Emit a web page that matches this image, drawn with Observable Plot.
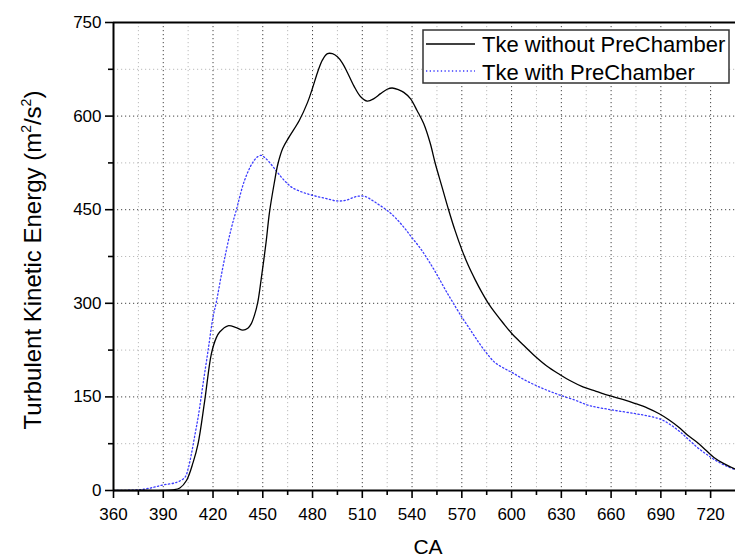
<!DOCTYPE html>
<html>
<head>
<meta charset="utf-8">
<script src="https://cdn.jsdelivr.net/npm/d3@7"></script>
<script src="https://cdn.jsdelivr.net/npm/@observablehq/plot@0.6"></script>
<style>
  html, body { margin: 0; padding: 0; background: #fff; }
  #chart { width: 735px; height: 559px; }
</style>
</head>
<body>
<div id="chart"></div>
<script>
// ---- Data ----
const seriesNames = ["Tke without PreChamber", "Tke with PreChamber"];

const caNoPre = [360, 380, 390, 396, 400, 404, 408, 411, 415, 419, 422, 424, 429, 434, 438, 441, 443, 445, 447, 449, 452, 454, 457, 459, 462, 466, 472, 477, 480, 483, 486, 489, 492, 495, 498, 501, 505, 509, 513, 517, 521, 525, 528, 532, 535, 539, 543, 547, 551, 554, 558, 562, 566, 570, 574, 578, 582, 586, 590, 595, 600, 606, 613, 621, 629, 636, 643, 651, 659, 667, 675, 682, 689, 695, 701, 706, 712, 717, 722, 728, 735];
const tkeNoPre = [0, 0, 0, 1, 4, 16, 45, 75, 144, 219, 245, 254, 264, 261, 257, 260, 267, 281, 302, 338, 398, 445, 494, 522, 548, 567, 593, 622, 645, 670, 690, 700, 700, 695, 685, 670, 648, 631, 624, 628, 636, 643, 645, 642, 638, 628, 609, 588, 556, 524, 487, 450, 416, 386, 360, 338, 318, 300, 285, 268, 252, 236, 218, 200, 186, 175, 166, 159, 152, 146, 139, 132, 123, 113, 101, 89, 77, 65, 53, 43, 34];

const caPre = [360, 370, 378, 384, 390, 398, 403, 405, 407, 409, 411, 414, 417, 420, 422, 425, 428, 431, 434, 439, 444, 447, 449, 451, 454, 457, 460, 464, 468, 474, 480, 488, 495, 500, 505, 509, 512, 516, 520, 525, 530, 535, 540, 545, 550, 555, 560, 564, 570, 575, 580, 585, 590, 596, 601, 608, 615, 622, 629, 638, 647, 661, 675, 683, 690, 696, 702, 707, 712, 717, 722, 728, 735];
const tkePre = [0, 0.5, 2, 5, 9, 13, 21, 35, 59, 88, 117, 171, 224, 278, 302, 345, 385, 420, 449, 497, 526, 535, 537, 534, 526, 516, 506, 494, 485, 478, 473, 468, 464, 465, 470, 472, 471, 465, 458, 449, 437, 422, 405, 388, 368, 346, 322, 304, 278, 258, 238, 220, 205, 195, 188, 177, 168, 160, 153, 145, 136, 129, 123, 119, 114, 105, 93, 81, 69, 59, 50, 41, 33];

const xMajorTicks = [360, 390, 420, 450, 480, 510, 540, 570, 600, 630, 660, 690, 720];
const xMinorTicks = [375, 405, 435, 465, 495, 525, 555, 585, 615, 645, 675, 705, 735];
const yMajorTicks = [0, 150, 300, 450, 600, 750];
const yMinorTicks = [75, 225, 375, 525, 675];
const xTitle = "CA";

// ---- Build tables ----
const noPre = caNoPre.map((c, i) => ({ca: c, tke: tkeNoPre[i]}));
const withPre = caPre.map((c, i) => ({ca: c, tke: tkePre[i]}));

const font = "'Liberation Sans', Arial, sans-serif";

const svg = Plot.plot({
  width: 735,
  height: 559,
  marginLeft: 113,
  marginRight: 0,
  marginTop: 22,
  marginBottom: 69,
  style: {fontFamily: font, fontSize: "17px", color: "black", background: "white", overflow: "visible"},
  x: {domain: [360, 735], label: null},
  y: {domain: [0, 750], label: null},
  marks: [
    // grids
    Plot.gridX(xMinorTicks, {stroke: "#bbb", strokeOpacity: 1, strokeDasharray: "1.2,2.8", strokeWidth: 1}),
    Plot.gridY(yMinorTicks, {stroke: "#bbb", strokeOpacity: 1, strokeDasharray: "1.2,2.8", strokeWidth: 1}),
    Plot.gridX(xMajorTicks.slice(1), {stroke: "#444", strokeOpacity: 1, strokeDasharray: "1.2,2.8", strokeWidth: 1}),
    Plot.gridY(yMajorTicks.slice(1, -1), {stroke: "#444", strokeOpacity: 1, strokeDasharray: "1.2,2.8", strokeWidth: 1}),
    // series
    Plot.line(withPre, {x: "ca", y: "tke", stroke: "#3c3cff", strokeWidth: 1.3, strokeDasharray: "1.3,2.4", curve: "catmull-rom"}),
    Plot.line(noPre, {x: "ca", y: "tke", stroke: "black", strokeWidth: 1.3, curve: "catmull-rom"}),
    // axes
    Plot.axisX(xMajorTicks, {tickSize: 8, tickPadding: 9, tickFormat: d => String(d), strokeWidth: 1.6, fontSize: 17, label: null}),
    Plot.axisX(xMinorTicks.slice(0, -1), {tickSize: 5, tickFormat: () => "", strokeWidth: 1.6, label: null}),
    Plot.axisY(yMajorTicks, {tickSize: 8, tickPadding: 4, tickFormat: d => String(d), strokeWidth: 1.6, fontSize: 17, label: null}),
    Plot.axisY(yMinorTicks, {tickSize: 5, tickFormat: () => "", strokeWidth: 1.6, label: null}),
    Plot.ruleY([0], {stroke: "black", strokeWidth: 2}),
    Plot.ruleY([750], {stroke: "black", strokeWidth: 2}),
    Plot.ruleX([360], {stroke: "black", strokeWidth: 2})
  ]
});

const sel = d3.select(svg);

// x-axis title
sel.append("text")
  .attr("x", 428).attr("y", 554)
  .attr("text-anchor", "middle")
  .attr("font-family", font).attr("font-size", 21).attr("fill", "black")
  .text(xTitle);

// y-axis title with superscripts
const yt = sel.append("text")
  .attr("transform", "translate(41,260) rotate(-90)")
  .attr("text-anchor", "middle")
  .attr("font-family", font).attr("font-size", 24).attr("fill", "black");
yt.append("tspan").text("Turbulent Kinetic Energy (m");
yt.append("tspan").attr("font-size", 14).attr("dy", -10).text("2");
yt.append("tspan").attr("dy", 10).text("/s");
yt.append("tspan").attr("font-size", 14).attr("dy", -10).text("2");
yt.append("tspan").attr("dy", 10).text(")");

// legend
const lg = sel.append("g").attr("text-anchor", "start");
lg.append("rect").attr("x", 423).attr("y", 30).attr("width", 306).attr("height", 53)
  .attr("fill", "white").attr("stroke", "#333").attr("stroke-width", 1.5);
lg.append("line").attr("x1", 426).attr("x2", 475).attr("y1", 44).attr("y2", 44)
  .attr("stroke", "black").attr("stroke-width", 1.3);
lg.append("line").attr("x1", 426).attr("x2", 475).attr("y1", 71).attr("y2", 71)
  .attr("stroke", "#3c3cff").attr("stroke-width", 1.3).attr("stroke-dasharray", "1.3,2.4");
lg.append("text").attr("x", 482).attr("y", 52).attr("text-anchor", "start")
  .attr("font-family", font).attr("font-size", 22).attr("fill", "black").text(seriesNames[0]);
lg.append("text").attr("x", 482).attr("y", 79.5).attr("text-anchor", "start")
  .attr("font-family", font).attr("font-size", 22).attr("fill", "black").text(seriesNames[1]);

document.getElementById("chart").appendChild(svg);
</script>
</body>
</html>
